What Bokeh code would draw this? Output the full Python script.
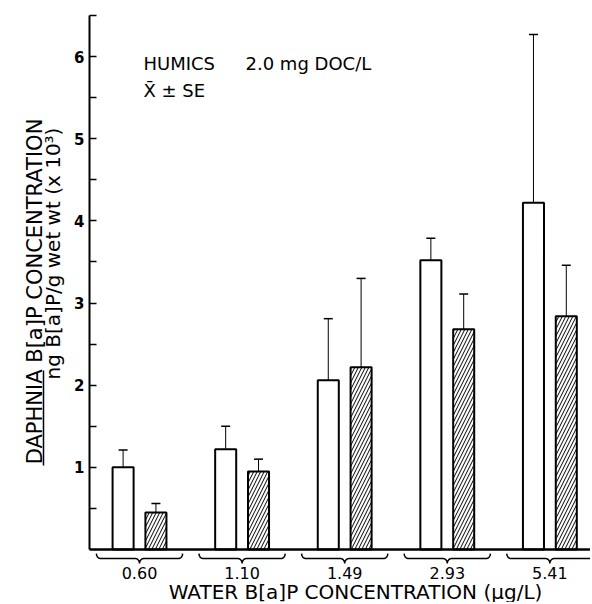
import numpy as np
from bokeh.plotting import figure
from bokeh.models import (FixedTicker, Whisker, TeeHead, Label, Arrow,
                          ColumnDataSource, Range1d, LinearAxis)
from bokeh.embed import file_html
from bokeh.resources import INLINE

# ---------------- data ----------------
groups = ["0.60", "1.10", "1.49", "2.93", "5.41"]          # water B[a]P, ug/L
open_mean = [1.00, 1.22, 2.06, 3.52, 4.22]
open_upper = [1.21, 1.50, 2.81, 3.79, 6.27]
open_lower = [0.76, 0.92, 1.33, 3.25, 2.23]
hatch_mean = [0.45, 0.95, 2.22, 2.68, 2.84]
hatch_upper = [0.56, 1.10, 3.30, 3.11, 3.46]
hatch_lower = [0.35, 0.81, 1.11, 2.22, 2.21]
y_ticks = [1, 2, 3, 4, 5, 6]
y_minor = [0.5, 1.5, 2.5, 3.5, 4.5, 5.5, 6.5]

FONT = "DejaVu Sans"
W, H = 590, 602
x = np.arange(len(groups), dtype=float)
OFF = 0.16
BW = 0.205
Y_AXIS_AT = -0.487      # x position of the value axis
Y_TOP = 6.5

p = figure(width=W, height=H, output_backend="svg", toolbar_location=None,
           x_range=Range1d(-1.355, 4.396), y_range=Range1d(-0.645, 6.683),
           x_axis_location=None, y_axis_location=None, min_border=0)
p.outline_line_color = None
p.grid.grid_line_color = None
p.background_fill_color = "white"
p.border_fill_color = "white"

# bars
src_open = ColumnDataSource(dict(x=x - OFF, top=open_mean, upper=open_upper, lower=open_lower))
src_hatch = ColumnDataSource(dict(x=x + OFF, top=hatch_mean, upper=hatch_upper, lower=hatch_lower))
p.vbar(x="x", top="top", bottom=0, width=BW, source=src_open,
       fill_color="white", line_color="black", line_width=2)
p.vbar(x="x", top="top", bottom=0, width=BW, source=src_hatch,
       fill_color="white", line_color="black", line_width=2,
       hatch_pattern="/", hatch_color="black", hatch_scale=7, hatch_weight=1)

for src in (src_open, src_hatch):
    p.add_layout(Whisker(source=src, base="x", upper="upper", lower="lower",
                         dimension="height", line_color="black", line_width=1,
                         upper_head=TeeHead(size=9, line_width=1.5, line_color="black"),
                         lower_head=TeeHead(size=9, line_width=1.5, line_color="black")))

# braces under each group
bxs, bys = [], []
w, r = 0.42, 0.04
y_end, y_mid, y_tip = -0.05, -0.11, -0.17
t = np.linspace(0, np.pi / 2, 8)
for c in x:
    lx1 = c - w + r * (1 - np.cos(t)); ly1 = y_mid + (y_end - y_mid) * (1 - np.sin(t))
    lx2 = c - r + r * np.sin(t);       ly2 = y_mid + (y_tip - y_mid) * (1 - np.cos(t))
    xs_left = np.concatenate([lx1, lx2])
    ys_left = np.concatenate([ly1, ly2])
    bxs.append(np.concatenate([xs_left, 2 * c - xs_left[::-1]]))
    bys.append(np.concatenate([ys_left, ys_left[::-1]]))
p.multi_line(xs=bxs, ys=bys, line_color="black", line_width=1.5)

# x axis: baseline at y = 0
xaxis = LinearAxis(fixed_location=0, bounds=(Y_AXIS_AT, 4.70),
                   ticker=FixedTicker(ticks=list(x)),
                   major_label_overrides={float(i): g for i, g in zip(x, groups)},
                   axis_line_color="black", axis_line_width=2.5,
                   major_tick_line_color=None, minor_tick_line_color=None,
                   major_label_standoff=11,
                   major_label_text_font=FONT, major_label_text_font_size="16px",
                   major_label_text_color="black")
p.add_layout(xaxis, "below")

# y axis
yaxis = LinearAxis(fixed_location=Y_AXIS_AT, bounds=(0, Y_TOP),
                   ticker=FixedTicker(ticks=y_ticks, minor_ticks=y_minor),
                   axis_line_width=2, axis_line_color="black",
                   major_tick_in=7, major_tick_out=0, minor_tick_in=7, minor_tick_out=0,
                   major_tick_line_width=1.5, minor_tick_line_width=1.5,
                   major_tick_line_color="black", minor_tick_line_color="black",
                   major_label_standoff=5, major_label_text_font=FONT,
                   major_label_text_font_size="15px", major_label_text_font_style="bold",
                   major_label_text_color="black")
p.add_layout(yaxis, "left")

def lab(text, sx, sy, size, angle=0.0, align="left", baseline="middle"):
    p.add_layout(Label(x=sx, y=sy, x_units="screen", y_units="screen", text=text,
                       text_font=FONT, text_font_size=size, text_color="black",
                       text_align=align, text_baseline=baseline, angle=angle))

# annotations (screen units from the bottom-left corner)
lab("HUMICS", 143, 539, "18px")
lab("2.0 mg DOC/L", 245, 539, "18px")
lab("X\u0304 \u00b1 SE", 143, 512, "18px")

# x title
lab("WATER B[a]P CONCENTRATION (\u03bcg/L)", 355, 11, "20px", align="center")

# y titles
lab("DAPHNIA B[a]P CONCENTRATION", 34, 311, "21px", angle=np.pi / 2,
    align="center", baseline="alphabetic")
lab("ng B[a]P/g wet wt (x 10\u00b3)", 52.5, 349, "20px", angle=np.pi / 2,
    align="center", baseline="alphabetic")
p.add_layout(Arrow(start=None, end=None, x_start=43, y_start=137, x_end=43, y_end=232,
                   start_units="screen", end_units="screen",
                   line_color="black", line_width=1.5))

open("out.html", "w").write(file_html(p, INLINE))
